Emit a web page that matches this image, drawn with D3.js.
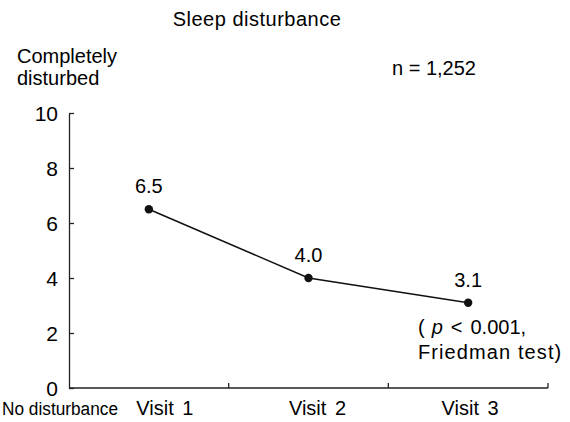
<!DOCTYPE html>
<html>
<head>
<meta charset="utf-8">
<script src="https://cdn.jsdelivr.net/npm/d3@7"></script>
<style>
	body { margin: 0; background: #fff; }
	svg text { font-family: "Liberation Sans", Arial, sans-serif; fill: #000; }
</style>
</head>
<body>
<svg id="svg_chart" width="570" height="422"></svg>
<script>
var visits = ["Visit 1", "Visit 2", "Visit 3"];
var scores = [6.5, 4.0, 3.1];
var scoreLabels = ["6.5", "4.0", "3.1"];
var yTicks = [0, 2, 4, 6, 8, 10];

var svg = d3.select("#svg_chart");
var x = d3.scaleBand().domain(visits).range([69, 548]);
var y = d3.scaleLinear().domain([0, 10]).range([388, 113]);

// titles
svg.append("text").attr("x", 257).attr("y", 26).attr("text-anchor", "middle")
	.attr("font-size", 20).attr("letter-spacing", 0.5).text("Sleep disturbance");
svg.append("text").attr("x", 17).attr("y", 63).attr("font-size", 20).text("Completely");
svg.append("text").attr("x", 17).attr("y", 85).attr("font-size", 20).text("disturbed");
svg.append("text").attr("x", 392).attr("y", 75).attr("font-size", 20).text("n = 1,252");

// y axis
var yAxis = d3.axisLeft(y).tickValues(yTicks).tickSizeInner(-5).tickSizeOuter(0).tickPadding(11);
var gy = svg.append("g").attr("transform", "translate(69,0)").call(yAxis);
gy.select(".domain").attr("stroke", "#222").attr("stroke-width", 1.3);
gy.selectAll(".tick line").attr("stroke", "#222").attr("stroke-width", 1.3);
gy.selectAll(".tick text").attr("font-size", 21).attr("font-family", "Liberation Sans, Arial, sans-serif").attr("fill", "#000").attr("dy", "0.36em");

// x axis (ticks at band edges)
var gx = svg.append("g");
gx.append("line")
	.attr("x1", x.range()[0]).attr("x2", x.range()[1])
	.attr("y1", y(0)).attr("y2", y(0))
	.attr("stroke", "#222").attr("stroke-width", 1.3);
gx.selectAll(".edge").data(visits).enter().append("line")
	.attr("class", "edge")
	.attr("x1", function(d) { return x(d) + x.bandwidth(); })
	.attr("x2", function(d) { return x(d) + x.bandwidth(); })
	.attr("y1", y(0)).attr("y2", y(0) - 5)
	.attr("stroke", "#222").attr("stroke-width", 1.3);
var labelShift = [16, 9, 2];
gx.selectAll(".vlab").data(visits).enter().append("text")
	.attr("class", "vlab")
	.attr("x", function(d, i) { return x(d) + x.bandwidth() / 2 + labelShift[i]; })
	.attr("y", 415).attr("text-anchor", "middle").attr("font-size", 20)
	.attr("word-spacing", 3)
	.text(function(d) { return d; });
gx.append("text").attr("x", 2).attr("y", 415).attr("font-size", 18)
	.attr("textLength", 116).attr("lengthAdjust", "spacingAndGlyphs").text("No disturbance");

// line + points
var line = d3.line()
	.x(function(d, i) { return x(visits[i]) + x.bandwidth() / 2; })
	.y(function(d) { return y(d); });
svg.append("path").datum(scores).attr("d", line)
	.attr("fill", "none").attr("stroke", "#111").attr("stroke-width", 1.5);
svg.selectAll(".pt").data(scores).enter().append("circle")
	.attr("class", "pt")
	.attr("cx", function(d, i) { return x(visits[i]) + x.bandwidth() / 2; })
	.attr("cy", function(d) { return y(d); })
	.attr("r", 4.2).attr("fill", "#111");
svg.selectAll(".val").data(scores).enter().append("text")
	.attr("class", "val")
	.attr("x", function(d, i) { return x(visits[i]) + x.bandwidth() / 2; })
	.attr("y", function(d) { return y(d) - 16; })
	.attr("text-anchor", "middle").attr("font-size", 20)
	.text(function(d, i) { return scoreLabels[i]; });

// test note
var note = svg.append("text").attr("x", 418).attr("y", 334).attr("font-size", 20);
note.append("tspan").text("(");
note.append("tspan").attr("font-style", "italic").attr("dx", 7).text("p");
note.append("tspan").attr("dx", 8).text("<");
note.append("tspan").attr("dx", 8).text("0.001,");
svg.append("text").attr("x", 418).attr("y", 359).attr("font-size", 20).attr("letter-spacing", 1.1).text("Friedman test)");
</script>
</body>
</html>
